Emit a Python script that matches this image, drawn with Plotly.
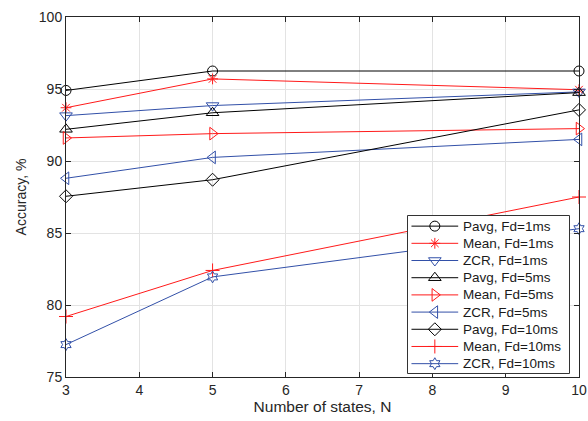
import plotly.graph_objects as go

N = [3, 5, 10]
pavg_1 = [94.9, 96.25, 96.25]
mean_1 = [93.7, 95.7, 94.95]
zcr_1 = [93.15, 93.85, 94.8]
pavg_5 = [92.2, 93.35, 94.75]
mean_5 = [91.6, 91.9, 92.25]
zcr_5 = [88.8, 90.25, 91.5]
pavg_10 = [87.55, 88.7, 93.55]
mean_10 = [79.2, 82.4, 87.5]
zcr_10 = [77.25, 81.95, 85.3]

x_ticks = [3, 4, 5, 6, 7, 8, 9, 10]
y_ticks = [75, 80, 85, 90, 95, 100]

BLACK = "#000000"
RED = "#ff1a1a"
BLUE = "#3250a8"
AXC = "#262626"
FONT = "Liberation Sans, Arial, sans-serif"

series = [
    ("Pavg, Fd=1ms", pavg_1, BLACK, "circle-open", 10),
    ("Mean, Fd=1ms", mean_1, RED, "asterisk-open", 9),
    ("ZCR, Fd=1ms", zcr_1, BLUE, "triangle-down-open", 11),
    ("Pavg, Fd=5ms", pavg_5, BLACK, "triangle-up-open", 11),
    ("Mean, Fd=5ms", mean_5, RED, "triangle-right-open", 11),
    ("ZCR, Fd=5ms", zcr_5, BLUE, "triangle-left-open", 11),
    ("Pavg, Fd=10ms", pavg_10, BLACK, "diamond-open", 10),
    ("Mean, Fd=10ms", mean_10, RED, "cross-thin-open", 10),
    ("ZCR, Fd=10ms", zcr_10, BLUE, "hexagram-open", 9),
]

fig = go.Figure()
for name, vals, col, sym, sz in series:
    fig.add_trace(go.Scatter(
        x=N, y=vals, name=name, mode="lines+markers", showlegend=False,
        line=dict(color=col, width=1),
        marker=dict(symbol=sym, size=sz, color=col, line=dict(color=col, width=1)),
        cliponaxis=False,
    ))

axis_common = dict(
    showline=True, linecolor=AXC, linewidth=1, mirror="ticks",
    ticks="inside", ticklen=5, tickcolor=AXC,
    showgrid=True, gridcolor="#e3e3e3", gridwidth=1, zeroline=False,
    automargin=False,
    tickfont=dict(family=FONT, size=14, color=AXC),
)

# ---- custom legend drawn in an inset subplot (pixel-like units inside the box)
LW, LH = 163, 159          # legend box size in its own axis units
ROW0, ROWSTEP = 10.7, 17.3  # row layout inside the box
fig.add_trace(go.Scatter(
    x=[0, LW, LW, 0, 0], y=[0, 0, LH, LH, 0], mode="lines", fill="toself",
    fillcolor="white", line=dict(color="#333333", width=1), showlegend=False,
    hoverinfo="skip", xaxis="x2", yaxis="y2", cliponaxis=False,
))
for i, (name, vals, col, sym, sz) in enumerate(series):
    ry = ROW0 + ROWSTEP * i
    fig.add_trace(go.Scatter(
        x=[4, 51], y=[ry, ry], mode="lines", line=dict(color=col, width=1),
        showlegend=False, hoverinfo="skip", xaxis="x2", yaxis="y2", cliponaxis=False,
    ))
    fig.add_trace(go.Scatter(
        x=[27.5], y=[ry], mode="markers",
        marker=dict(symbol=sym, size=sz, color=col, line=dict(color=col, width=1)),
        showlegend=False, hoverinfo="skip", xaxis="x2", yaxis="y2", cliponaxis=False,
    ))
    fig.add_annotation(x=54, y=ry, xref="x2", yref="y2", text=name, showarrow=False,
                       xanchor="left", yanchor="middle",
                       font=dict(family=FONT, size=13.5, color="#1a1a1a"))

fig.update_layout(
    width=588, height=421,
    margin=dict(l=66, r=9, t=17, b=44),
    plot_bgcolor="white", paper_bgcolor="white",
    font=dict(family=FONT, color=AXC),
    showlegend=False,
    xaxis=dict(range=[3, 10], tickvals=x_ticks, title=dict(
        text="Number of states, N", font=dict(family=FONT, size=15.5, color=AXC), standoff=2),
        **axis_common),
    yaxis=dict(range=[75, 100], tickvals=y_ticks, title=dict(
        text="Accuracy, %", font=dict(family=FONT, size=14, color=AXC), standoff=8),
        **axis_common),
    xaxis2=dict(domain=[(407 - 66) / 513, (570 - 66) / 513], range=[-0.5, LW + 0.5],
                anchor="y2", visible=False, fixedrange=True),
    yaxis2=dict(domain=[(377 - 374) / 360, (377 - 215) / 360], range=[LH + 0.5, -0.5],
                anchor="x2", visible=False, fixedrange=True),
)

# remove the default 8px page margin so the figure fills the window exactly
fig.write_html("out.html",
               config={"displayModeBar": False},
               post_script="document.body.style.margin='0px';document.body.style.overflow='hidden';")
